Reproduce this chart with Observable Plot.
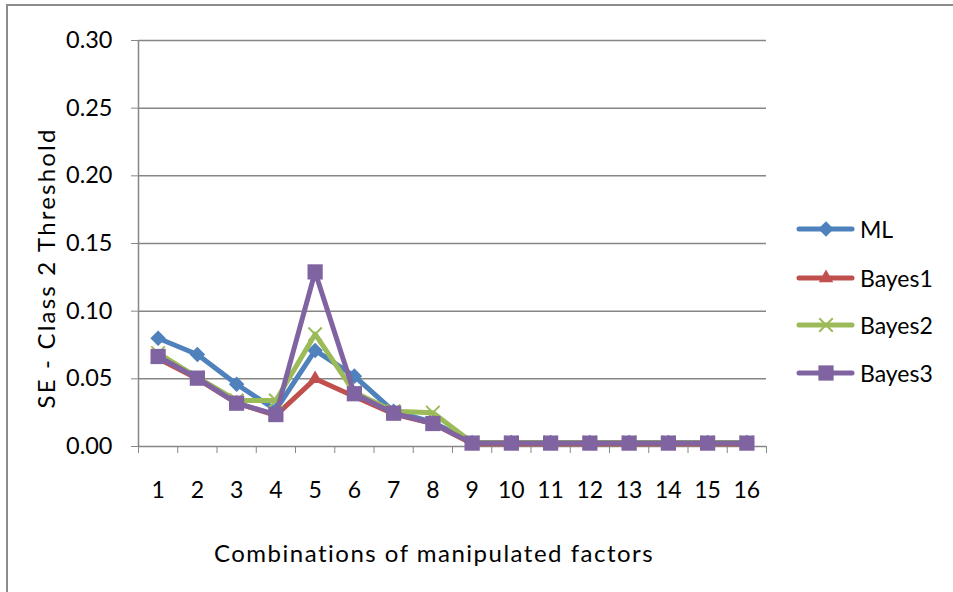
<!DOCTYPE html>
<html>
<head>
<meta charset="utf-8">
<script src="https://cdn.jsdelivr.net/npm/d3@7"></script>
<script src="https://cdn.jsdelivr.net/npm/@observablehq/plot@0.6"></script>
<style>
  html, body { margin: 0; padding: 0; background: #fff; overflow: hidden; }
  #wrap { position: relative; width: 953px; height: 592px; font-family: Lato, "Open Sans", sans-serif; }
  #frame { position: absolute; left: 6px; top: 4px; width: 1000px; height: 700px; border-left: 2px solid #8c8c8c; border-top: 2px solid #8c8c8c; }
  #chart { position: absolute; left: 0; top: 0; }
  #chart svg [aria-label^="y-axis"] text { fill: #000; }
  #ylab { position: absolute; left: 45px; top: 268px; transform: translate(-50%, -50%) rotate(-90deg); font-size: 24px; letter-spacing: 2.2px; white-space: nowrap; color: #000; }
  #xlab { position: absolute; left: 434px; top: 552px; transform: translate(-50%, -50%); font-size: 24px; letter-spacing: 1.5px; white-space: nowrap; color: #000; }
  #legend { position: absolute; left: 796px; top: 0; }
  .lg { position: absolute; left: 0; display: flex; align-items: center; font-size: 23px; white-space: nowrap; transform: translateY(-50%); }
  .lg svg { margin-right: 4px; }
</style>
</head>
<body>
<div id="wrap">
  <div id="frame"></div>
  <div id="chart"></div>
  <div id="ylab">SE - Class 2 Threshold</div>
  <div id="xlab">Combinations of manipulated factors</div>
  <div id="legend"></div>
</div>
<script>
const categories = [1, 2, 3, 4, 5, 6, 7, 8, 9, 10, 11, 12, 13, 14, 15, 16];
const seriesNames = ["ML", "Bayes1", "Bayes2", "Bayes3"];
const seriesColors = ["#4F81BD", "#C0504D", "#9BBB59", "#8064A2"];
const seriesSymbols = ["diamond2", "triangle", "times", "square"];
const mlValues     = [0.080, 0.068, 0.046, 0.027, 0.071, 0.052, 0.026, 0.018, 0.003, 0.003, 0.003, 0.003, 0.003, 0.003, 0.003, 0.003];
const bayes1Values = [0.065, 0.050, 0.032, 0.023, 0.050, 0.037, 0.024, 0.017, 0.002, 0.002, 0.002, 0.002, 0.002, 0.002, 0.002, 0.002];
const bayes2Values = [0.069, 0.051, 0.034, 0.034, 0.083, 0.040, 0.026, 0.025, 0.003, 0.003, 0.003, 0.003, 0.003, 0.003, 0.003, 0.003];
const bayes3Values = [0.0665, 0.0505, 0.032, 0.0236, 0.129, 0.039, 0.0246, 0.017, 0.0025, 0.0025, 0.0025, 0.0025, 0.0025, 0.0025, 0.0025, 0.0025];
const yTicks = [0, 0.05, 0.10, 0.15, 0.20, 0.25, 0.30];

const allValues = [mlValues, bayes1Values, bayes2Values, bayes3Values];
const boundaries = [0.5, ...categories.map(c => c + 0.5)];

const symbolRadius = {square: 8.6, diamond2: 7.0, triangle: 5.4, times: 6.2};

const seriesMarks = seriesNames.flatMap((name, i) => {
  const data = categories.map((c, j) => ({cat: c, value: allValues[i][j]}));
  const sym = seriesSymbols[i];
  const isStroke = sym === "times";
  return [
    Plot.line(data, {x: "cat", y: "value", stroke: seriesColors[i], strokeWidth: 5, strokeLinejoin: "round", strokeLinecap: "round"}),
    Plot.dot(data, {x: "cat", y: "value", symbol: () => sym, r: symbolRadius[sym],
      fill: isStroke ? "none" : seriesColors[i],
      stroke: seriesColors[i], strokeWidth: isStroke ? 2 : 0})
  ];
});

const chart = Plot.plot({
  width: 953,
  height: 592,
  marginLeft: 138,
  marginRight: 187,
  marginTop: 40,
  marginBottom: 146,
  style: {fontFamily: "Lato, 'Open Sans', sans-serif", fontSize: "23.5px", color: "#868686", background: "transparent"},
  x: {type: "linear", domain: [0.5, 16.5], ticks: boundaries, tickSize: 7, tickFormat: () => "", label: null},
  y: {domain: [0, 0.3], ticks: yTicks, tickSize: 7, tickPadding: 19, tickFormat: d3.format(".2f"), label: null},
  marks: [
    Plot.ruleY(yTicks, {stroke: "#868686", strokeWidth: 1.5}),
    Plot.ruleX([0.5], {stroke: "#868686", strokeWidth: 1.5}),
    Plot.text(categories, {x: d => d, frameAnchor: "bottom", dy: 44, text: d => String(d), fill: "#000", fontSize: 23, lineAnchor: "middle"}),
    ...seriesMarks
  ]
});
document.getElementById("chart").appendChild(chart);

// legend
const legendRows = [229, 278, 325, 373];
const symbolPath = Object.fromEntries(Object.entries({
  diamond2: d3.symbolDiamond2, triangle: d3.symbolTriangle, times: d3.symbolTimes, square: d3.symbolSquare
}).map(([k, s]) => [k, d3.symbol(s, Math.PI * symbolRadius[k] * symbolRadius[k])()]));
const legend = document.getElementById("legend");
seriesNames.forEach((name, i) => {
  const row = document.createElement("div");
  row.className = "lg";
  row.style.top = legendRows[i] + "px";
  const col = seriesColors[i];
  const sym = seriesSymbols[i];
  const isStroke = sym === "times";
  row.innerHTML = `<svg width="60" height="20" viewBox="0 0 60 20" style="overflow:visible">
      <line x1="3" y1="10" x2="56" y2="10" stroke="${col}" stroke-width="5" stroke-linecap="round"/>
      <path transform="translate(30,10)" d="${symbolPath[sym]}" fill="${isStroke ? "none" : col}" stroke="${col}" stroke-width="${isStroke ? 2 : 0}"/>
    </svg><span>${name}</span>`;
  legend.appendChild(row);
});
</script>
</body>
</html>
